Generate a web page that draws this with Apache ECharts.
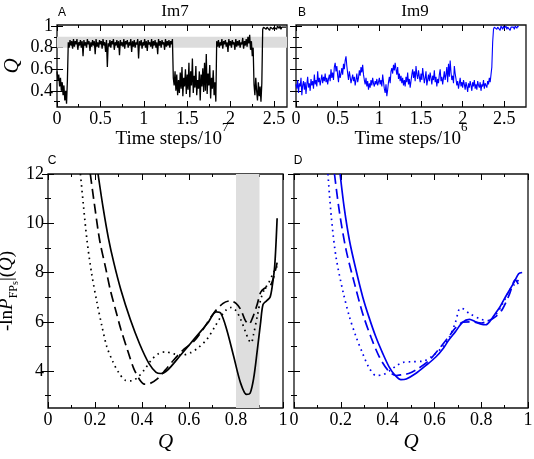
<!DOCTYPE html>
<html><head><meta charset="utf-8">
<script src="https://cdn.jsdelivr.net/npm/echarts@6/dist/echarts.min.js"></script>
<style>html,body{margin:0;padding:0;background:#fff}#c{width:534px;height:459px}</style>
</head><body><div id="c"></div>
<script>
// ---------------- DATA ----------------
// Panel A: Im7 trajectory, Q sampled every 0.01 x 10^7 time steps
const stepA = 0.01;
const qA = [
0.58,0.50,0.55,0.44,0.52,0.40,0.48,0.36,0.45,0.31,
0.40,0.28,0.50,0.85,0.80,0.87,0.82,0.86,0.79,0.88,
0.81,0.86,0.83,0.88,0.78,0.85,0.82,0.87,0.80,0.86,
0.72,0.87,0.82,0.85,0.80,0.88,0.83,0.86,0.77,0.85,
0.81,0.87,0.82,0.86,0.74,0.88,0.81,0.85,0.80,0.87,
0.83,0.86,0.79,0.88,0.82,0.85,0.76,0.87,0.62,0.84,
0.81,0.87,0.80,0.86,0.83,0.88,0.78,0.85,0.82,0.87,
0.80,0.86,0.73,0.87,0.82,0.85,0.81,0.88,0.79,0.86,
0.83,0.87,0.80,0.85,0.82,0.88,0.76,0.86,0.81,0.87,
0.80,0.85,0.83,0.88,0.70,0.86,0.82,0.87,0.79,0.85,
0.82,0.88,0.80,0.86,0.77,0.87,0.83,0.85,0.81,0.88,
0.79,0.86,0.82,0.87,0.80,0.85,0.74,0.88,0.82,0.86,
0.80,0.87,0.83,0.85,0.78,0.88,0.81,0.86,0.82,0.87,
0.80,0.86,0.83,0.88,0.52,0.45,0.58,0.40,0.55,0.36,
0.50,0.38,0.57,0.42,0.62,0.35,0.52,0.44,0.60,0.37,
0.55,0.41,0.66,0.34,0.58,0.45,0.70,0.38,0.54,0.43,
0.63,0.36,0.50,0.42,0.58,0.31,0.55,0.44,0.61,0.39,
0.66,0.40,0.74,0.37,0.56,0.45,0.64,0.33,0.52,0.42,
0.59,0.36,0.48,0.30,0.86,0.81,0.87,0.80,0.85,0.82,
0.88,0.79,0.86,0.83,0.87,0.81,0.85,0.76,0.88,0.82,
0.86,0.80,0.87,0.83,0.85,0.78,0.88,0.81,0.86,0.82,
0.87,0.80,0.85,0.83,0.89,0.79,0.86,0.82,0.88,0.81,
0.90,0.84,0.92,0.78,0.86,0.72,0.80,0.46,0.36,0.52,
0.40,0.31,0.48,0.35,0.44,0.30,0.47,0.97,0.99,0.98,
1.00,0.97,0.99,0.98,1.00,0.96,0.99,0.98,1.00,0.97,
0.99,1.00,0.98,0.97,1.00,0.99,0.98,1.00,0.97,0.99,
1.00,0.98,0.99,1.00,0.99
];
// Panel B: Im9 trajectory, Q sampled every 0.01 x 10^6 time steps
const stepB = 0.01;
const qB = [
0.46,0.42,0.50,0.38,0.47,0.44,0.52,0.36,0.45,0.49,
0.41,0.48,0.37,0.46,0.53,0.43,0.47,0.40,0.51,0.45,
0.49,0.42,0.55,0.46,0.50,0.44,0.58,0.48,0.52,0.45,
0.50,0.55,0.47,0.53,0.49,0.56,0.48,0.52,0.46,0.51,
0.55,0.49,0.60,0.52,0.57,0.50,0.62,0.66,0.58,0.63,
0.54,0.48,0.59,0.52,0.56,0.61,0.55,0.65,0.60,0.68,
0.72,0.63,0.56,0.50,0.58,0.53,0.47,0.51,0.55,0.49,
0.53,0.45,0.50,0.56,0.48,0.52,0.59,0.54,0.62,0.57,
0.64,0.55,0.50,0.46,0.52,0.44,0.49,0.41,0.47,0.43,
0.50,0.45,0.52,0.47,0.44,0.49,0.46,0.51,0.45,0.48,
0.52,0.46,0.50,0.44,0.55,0.48,0.42,0.38,0.46,0.35,
0.41,0.48,0.53,0.47,0.58,0.61,0.56,0.64,0.59,0.66,
0.60,0.55,0.62,0.51,0.56,0.49,0.54,0.47,0.52,0.45,
0.50,0.44,0.53,0.48,0.57,0.46,0.51,0.43,0.49,0.55,
0.60,0.52,0.58,0.49,0.63,0.55,0.51,0.59,0.53,0.48,
0.56,0.50,0.61,0.54,0.47,0.52,0.58,0.45,0.50,0.55,
0.49,0.57,0.52,0.46,0.54,0.50,0.59,0.48,0.53,0.44,
0.51,0.47,0.55,0.60,0.49,0.53,0.46,0.52,0.58,0.50,
0.55,0.62,0.48,0.65,0.53,0.68,0.57,0.50,0.54,0.47,
0.63,0.56,0.51,0.45,0.49,0.42,0.47,0.52,0.44,0.48,
0.43,0.50,0.46,0.41,0.48,0.44,0.39,0.47,0.43,0.49,
0.45,0.40,0.48,0.44,0.50,0.42,0.46,0.41,0.49,0.45,
0.43,0.48,0.40,0.46,0.44,0.50,0.42,0.47,0.45,0.43,
0.49,0.46,0.52,0.48,0.55,0.62,0.85,0.97,0.99,0.98,
1.00,0.97,0.99,1.00,0.98,0.96,1.00,0.99,0.97,1.00,
0.98,0.99,1.00,0.97,0.99,0.98,1.00,0.96,0.99,1.00,
0.98,0.99,0.97,1.00,0.99,0.98,1.00,0.99
];
// Panel C: Im7 free-energy profiles [Q, -lnP]
const cSolid = [[0.213,12],[0.235,10.6],[0.257,9.4],[0.28,8.4],[0.31,7.3],[0.35,6.1],[0.39,5.1],[0.43,4.3],[0.46,3.95],[0.48,3.9],[0.51,4.05],[0.56,4.6],[0.6,5.05],[0.64,5.5],[0.68,5.95],[0.715,6.4],[0.735,6.35],[0.76,5.7],[0.79,4.6],[0.82,3.5],[0.845,3.05],[0.86,3.1],[0.875,3.7],[0.89,4.8],[0.905,6.0],[0.915,6.7],[0.93,6.85],[0.945,7.0],[0.955,7.5],[0.965,8.3],[0.975,10.2]];
const cDashed = [[0.18,12],[0.2,10.6],[0.22,9.3],[0.245,8.2],[0.265,7.3],[0.29,6.4],[0.31,5.7],[0.34,4.8],[0.365,4.1],[0.39,3.65],[0.41,3.47],[0.435,3.5],[0.465,3.68],[0.5,4.05],[0.535,4.45],[0.58,4.9],[0.62,5.2],[0.66,5.7],[0.705,6.35],[0.745,6.75],[0.775,6.85],[0.8,6.75],[0.82,6.5],[0.84,6.05],[0.855,5.9],[0.87,6.15],[0.89,6.7],[0.905,7.2],[0.92,7.35],[0.945,7.45],[0.96,7.8],[0.975,8.4]];
const cDotted = [[0.138,12],[0.15,10.8],[0.166,9.3],[0.185,8.0],[0.208,6.8],[0.23,5.8],[0.25,5.0],[0.275,4.4],[0.3,3.95],[0.33,3.62],[0.355,3.6],[0.38,3.73],[0.41,4.05],[0.44,4.45],[0.47,4.7],[0.5,4.78],[0.535,4.7],[0.57,4.65],[0.606,4.74],[0.64,4.95],[0.677,5.3],[0.71,5.8],[0.735,6.2],[0.76,6.5],[0.78,6.58],[0.8,6.45],[0.82,6.1],[0.84,5.6],[0.855,5.25],[0.865,5.15],[0.875,5.5],[0.89,6.2],[0.905,6.9],[0.92,7.3],[0.94,7.6],[0.96,8.0],[0.975,8.25]];
// Panel D: Im9 free-energy profiles
const dSolid = [[0.197,12],[0.215,10.6],[0.237,9.3],[0.265,8.1],[0.294,7.0],[0.32,6.2],[0.35,5.38],[0.38,4.7],[0.407,4.16],[0.43,3.85],[0.457,3.65],[0.48,3.68],[0.52,3.9],[0.56,4.2],[0.606,4.57],[0.64,4.95],[0.66,5.24],[0.69,5.6],[0.72,5.98],[0.75,6.1],[0.775,6.0],[0.8,5.9],[0.82,5.88],[0.84,6.05],[0.86,6.33],[0.88,6.6],[0.9,6.95],[0.92,7.27],[0.94,7.6],[0.96,7.95],[0.975,8.0]];
const dDashed = [[0.173,12],[0.195,10.4],[0.223,8.9],[0.26,7.5],[0.294,6.32],[0.33,5.35],[0.365,4.57],[0.4,4.05],[0.435,3.82],[0.46,3.85],[0.49,3.9],[0.53,4.1],[0.577,4.43],[0.62,4.9],[0.66,5.38],[0.69,5.75],[0.72,5.98],[0.75,6.0],[0.776,5.98],[0.8,5.95],[0.833,6.05],[0.86,6.2],[0.89,6.5],[0.92,7.1],[0.946,7.7],[0.96,7.5]];
const dDotted = [[0.145,12],[0.16,10.2],[0.18,8.6],[0.21,7.2],[0.237,6.2],[0.265,5.4],[0.294,4.7],[0.32,4.15],[0.35,3.82],[0.38,3.85],[0.407,4.0],[0.435,4.2],[0.464,4.35],[0.5,4.38],[0.55,4.4],[0.59,4.6],[0.634,4.97],[0.665,5.4],[0.69,5.98],[0.705,6.5],[0.715,6.55],[0.75,6.33],[0.8,6.1],[0.83,6.05],[0.86,6.26],[0.89,6.7],[0.92,7.27],[0.94,7.5],[0.96,7.7]];
// shaded native-state regions
const bandAQ = [0.8, 0.9];
const bandCQ = [0.8, 0.9];
// ticks
const tsMajor = [0, 0.5, 1, 1.5, 2, 2.5];
const tsMinor = [0.25, 0.75, 1.25, 1.75, 2.25];
const qTopMajor = [0.4, 0.6, 0.8, 1];
const qTopMinor = [0.3, 0.5, 0.7, 0.9];
const qMajor = [0, 0.2, 0.4, 0.6, 0.8, 1];
const qMinor = [0.1, 0.3, 0.5, 0.7, 0.9];
const feMajor = [4, 6, 8, 10, 12];
const feMinor = [3, 5, 7, 9, 11];

// ---------------- CHART ----------------
const SERIF = '"Liberation Serif","Times New Roman",serif';
const SANS = '"Liberation Sans",Arial,sans-serif';
const grids = [], xAxes = [], yAxes = [];

function axis(dim, grid, pos, range, ticks, len, labels, extra) {
  return Object.assign({
    type: 'value', gridIndex: grid, position: pos, min: range[0], max: range[1],
    axisLine: {show: false}, splitLine: {show: false},
    axisTick: {show: true, inside: true, length: len, customValues: ticks, lineStyle: {color: '#000', width: 1}},
    axisLabel: labels ? {show: true, customValues: labels, color: '#000', fontFamily: SERIF, fontSize: 18,
                         margin: dim === 'x' ? 3 : 4} : {show: false},
    nameMoveOverlap: false
  }, extra || {});
}

function addPanel(rect, xr, yr, xMaj, xMnr, yMaj, yMnr, showX, showY, xExtra, yExtra) {
  const g = grids.length;
  grids.push(Object.assign({show: true, borderColor: '#111', borderWidth: 1.3, backgroundColor: 'rgba(0,0,0,0)',
                            containLabel: false, outerBoundsMode: 'none'}, rect));
  grids.push(Object.assign({show: false, containLabel: false, outerBoundsMode: 'none'}, rect));
  const xi = xAxes.length, yi = yAxes.length;
  xAxes.push(axis('x', g, 'bottom', xr, xMaj, 6, showX ? xMaj : null, xExtra));
  xAxes.push(axis('x', g, 'top', xr, xMaj, 6, null));
  xAxes.push(axis('x', g + 1, 'bottom', xr, xMnr, 3, null));
  xAxes.push(axis('x', g + 1, 'top', xr, xMnr, 3, null));
  yAxes.push(axis('y', g, 'left', yr, yMaj, 6, showY ? yMaj : null, yExtra));
  yAxes.push(axis('y', g, 'right', yr, yMaj, 6, null));
  yAxes.push(axis('y', g + 1, 'left', yr, yMnr, 3, null));
  yAxes.push(axis('y', g + 1, 'right', yr, yMnr, 3, null));
  return {xi, yi};
}

const timeName = (p) => ({
  name: '{a|Time steps/10}{s|' + p + '}', nameLocation: 'middle', nameGap: 14,
  nameTextStyle: {rich: {
    a: {fontFamily: SERIF, fontSize: 19, color: '#000', lineHeight: 36},
    s: {fontFamily: SERIF, fontSize: 13, color: '#000', lineHeight: 10, verticalAlign: 'top'}
  }}
});
const qName = {name: 'Q', nameLocation: 'middle', nameGap: 24,
  nameTextStyle: {fontFamily: SERIF, fontStyle: 'italic', fontSize: 21, color: '#000'}};

const pA = addPanel({left: 57, top: 25, width: 230, height: 82}, [0, 2.65], [0.25, 1.01],
  tsMajor, tsMinor, qTopMajor, qTopMinor, true, true, timeName(7),
  {name: 'Q', nameLocation: 'middle', nameGap: 34, nameRotate: 90,
   nameTextStyle: {fontFamily: SERIF, fontStyle: 'italic', fontSize: 21, color: '#000'}});
const pB = addPanel({left: 296, top: 25, width: 230, height: 82}, [0, 2.76], [0.25, 1.01],
  tsMajor, tsMinor, qTopMajor, qTopMinor, true, false, timeName(6), null);
const pC = addPanel({left: 48, top: 174, width: 235, height: 234}, [0, 1], [2.5, 12],
  qMajor, qMinor, feMajor, feMinor, true, true, qName,
  {name: '{n|-ln}{i|P}{sb|FP}{ss|s}{n||(}{i|Q}{n|)}', nameLocation: 'middle', nameGap: 28, nameRotate: 90,
   nameTextStyle: {rich: {
     n: {fontFamily: SERIF, fontSize: 19, color: '#000', lineHeight: 26},
     i: {fontFamily: SERIF, fontStyle: 'italic', fontSize: 19, color: '#000', lineHeight: 26},
     sb: {fontFamily: SERIF, fontSize: 12, color: '#000', lineHeight: 13, verticalAlign: 'bottom'},
     ss: {fontFamily: SERIF, fontSize: 10, color: '#000', lineHeight: 8, verticalAlign: 'bottom'}
   }}});
const pD = addPanel({left: 294, top: 174, width: 234, height: 234}, [0, 1], [2.5, 12],
  qMajor, qMinor, feMajor, feMinor, true, false, qName, null);

const series = [];
series.push({
  type: 'line', xAxisIndex: pA.xi, yAxisIndex: pA.yi, showSymbol: false, animation: false,
  data: qA.map((q, i) => [+(i * stepA).toFixed(2), q]),
  lineStyle: {color: '#000', width: 1.3},
  markArea: {silent: true, itemStyle: {color: '#dcdcdc'}, data: [[{yAxis: bandAQ[0]}, {yAxis: bandAQ[1]}]]}
});
series.push({
  type: 'line', xAxisIndex: pB.xi, yAxisIndex: pB.yi, showSymbol: false, animation: false,
  data: qB.map((q, i) => [+(i * stepB).toFixed(2), q]),
  lineStyle: {color: '#0000ff', width: 1.1}
});
function fe(p, data, color, type, withBand) {
  const s = {type: 'line', xAxisIndex: p.xi, yAxisIndex: p.yi, showSymbol: false, animation: false,
    smooth: 0.3, data: data, clip: true, lineStyle: {color: color, width: 1.7, type: type}};
  if (withBand) s.markArea = {silent: true, itemStyle: {color: '#dedede'}, data: [[{xAxis: bandCQ[0]}, {xAxis: bandCQ[1]}]]};
  return s;
}
series.push(fe(pC, cSolid, '#000', 'solid', true));
series.push(fe(pC, cDashed, '#000', [10, 5], false));
series.push(fe(pC, cDotted, '#000', [1.6, 4], false));
series.push(fe(pD, dSolid, '#0000ee', 'solid', false));
series.push(fe(pD, dDashed, '#0000ee', [10, 5], false));
series.push(fe(pD, dDotted, '#0000ee', [1.6, 4], false));

const txt = (x, y, t, font) => ({type: 'text', x: x, y: y, style: {text: t, font: font, fill: '#000', align: 'center', verticalAlign: 'middle'}});
const chart = echarts.init(document.getElementById('c'), null, {renderer: 'canvas'});
chart.setOption({
  animation: false,
  backgroundColor: '#fff',
  grid: grids, xAxis: xAxes, yAxis: yAxes, series: series,
  graphic: [
    txt(62, 13, 'A', '12px ' + SANS), txt(302, 13, 'B', '12px ' + SANS),
    txt(52, 161, 'C', '12px ' + SANS), txt(298, 161, 'D', '12px ' + SANS),
    txt(175, 12, 'Im7', '17px ' + SERIF), txt(415, 12, 'Im9', '17px ' + SERIF)
  ]
});
</script></body></html>
